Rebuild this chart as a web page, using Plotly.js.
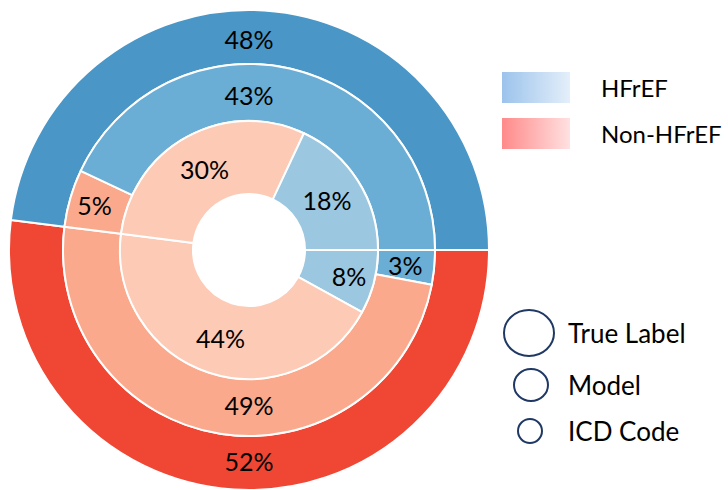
<!DOCTYPE html>
<html>
<head>
<meta charset="utf-8">
<script src="https://cdn.plot.ly/plotly-3.0.1.min.js"></script>
<style>
  html, body { margin: 0; padding: 0; background: #fff; }
  #chart { width: 728px; height: 490px; }
</style>
</head>
<body>
<div id="chart"></div>
<script>
// ---- data (slices listed counterclockwise from 3 o'clock) ----
const outerLabels = ['HFrEF', 'Non-HFrEF'];
const outerValues = [48, 52];

const modelLabels = ['HFrEF', 'Non-HFrEF', 'Non-HFrEF ', 'HFrEF '];
const modelValues = [43, 5, 49, 3];

const icdLabels = ['HFrEF', 'Non-HFrEF', 'Non-HFrEF ', 'HFrEF '];
const icdValues = [18, 30, 44, 8];

const classNames = ['HFrEF', 'Non-HFrEF'];
const ringNames = ['True Label', 'Model', 'ICD Code'];

// ---- look ----
const W = 728, H = 490;
const CX = 249, CY = 250;           // centre of the rings, px
const R_OUT = 240, R_MID = 186, R_IN = 129, R_HOLE = 56;

const blue = ['#4A96C7', '#6AADD5', '#9CC7E0'];
const red  = ['#F04634', '#FBA98C', '#FCCAB5'];
const pctFont = { family: 'Lato, sans-serif', size: 25, color: '#000' };

// square pie domain around the centre with radius r (px)
function dom(r) {
    return {
        x: [(CX - r) / W, (CX + r) / W],
        y: [(H - CY - r) / H, (H - CY + r) / H]
    };
}

const annotations = [];

function ring(labels, values, colors, r, hole) {
    // tiny slices would get their text shrunk by plotly -> put them as annotations
    const total = values.reduce((a, b) => a + b, 0);
    const pos = [];
    let cum = 0;
    values.forEach(v => {
        if (v / total < 0.04) {
            pos.push('none');
            const ang = (cum + v / 2) / total * 2 * Math.PI;
            const rm = r * (1 + hole) / 2;
            annotations.push({
                xref: 'x', yref: 'y',
                x: CX + rm * Math.cos(ang), y: CY - rm * Math.sin(ang),
                text: v + '%', showarrow: false, font: pctFont
            });
        } else {
            pos.push('inside');
        }
        cum += v;
    });
    // plotly goes clockwise from 3 o'clock, so feed the ccw list reversed
    const rev = a => a.slice().reverse();
    return {
        type: 'pie',
        labels: rev(labels),
        values: rev(values),
        sort: false,
        direction: 'clockwise',
        rotation: 90,
        hole: hole,
        domain: dom(r),
        marker: { colors: rev(colors), line: { color: '#ffffff', width: 2 } },
        texttemplate: '%{value}%',
        textposition: rev(pos),
        insidetextorientation: 'horizontal',
        insidetextfont: pctFont,
        hoverinfo: 'label+value',
        showlegend: false
    };
}

const traces = [
    ring(outerLabels, outerValues, [blue[0], red[0]], R_OUT, R_MID / R_OUT),
    ring(modelLabels, modelValues, [blue[1], red[1], red[1], blue[1]], R_MID, R_IN / R_MID),
    ring(icdLabels, icdValues, [blue[2], red[2], red[2], blue[2]], R_IN, R_HOLE / R_IN)
];

// ---- gradient swatches for the class legend ----
const swatchX = [502, 570], swatchY = [[72, 103], [118, 149]];
const swatchScales = [
    [[0, '#9CC3EC'], [1, '#E4EFFA']],
    [[0, '#FF8A8A'], [1, '#FFE1E1']]
];
classNames.forEach((name, i) => {
    const x0 = swatchX[0], x1 = swatchX[1], y0 = swatchY[i][0], y1 = swatchY[i][1];
    traces.push({
        type: 'scatter',
        x: [x0, x1, x1, x0, x0],
        y: [y0, y0, y1, y1, y0],
        mode: 'lines',
        line: { width: 0 },
        fill: 'toself',
        fillgradient: { type: 'horizontal', colorscale: swatchScales[i] },
        hoverinfo: 'skip',
        showlegend: false,
        xaxis: 'x', yaxis: 'y'
    });
    annotations.push({
        xref: 'x', yref: 'y', x: 599, y: (y0 + y1) / 2,
        text: name, showarrow: false, xanchor: 'left', yanchor: 'middle',
        font: { family: 'Lato, sans-serif', size: 24, color: '#000' }
    });
});

// ---- ring-size legend (circles) ----
const circ = [
    { cx: 529, cy: 333, rx: 25, ry: 23 },
    { cx: 531, cy: 385, rx: 17, ry: 16 },
    { cx: 530, cy: 431, rx: 12, ry: 12 }
];
const shapes = circ.map(c => ({
    type: 'circle', xref: 'x', yref: 'y',
    x0: c.cx - c.rx, x1: c.cx + c.rx, y0: c.cy - c.ry, y1: c.cy + c.ry,
    line: { color: '#1F3864', width: 2 }, fillcolor: 'rgba(0,0,0,0)'
}));
ringNames.forEach((name, i) => {
    annotations.push({
        xref: 'x', yref: 'y', x: 566, y: circ[i].cy,
        text: name, showarrow: false, xanchor: 'left', yanchor: 'middle',
        font: { family: 'Lato, sans-serif', size: 26, color: '#000' }
    });
});

const layout = {
    width: W, height: H,
    margin: { l: 0, r: 0, t: 0, b: 0 },
    paper_bgcolor: '#fff', plot_bgcolor: 'rgba(0,0,0,0)',
    showlegend: false,
    xaxis: { range: [0, W], visible: false, fixedrange: true },
    yaxis: { range: [H, 0], visible: false, fixedrange: true },
    shapes: shapes,
    annotations: annotations
};

Plotly.newPlot('chart', traces, layout, { displayModeBar: false, staticPlot: true });
</script>
</body>
</html>
